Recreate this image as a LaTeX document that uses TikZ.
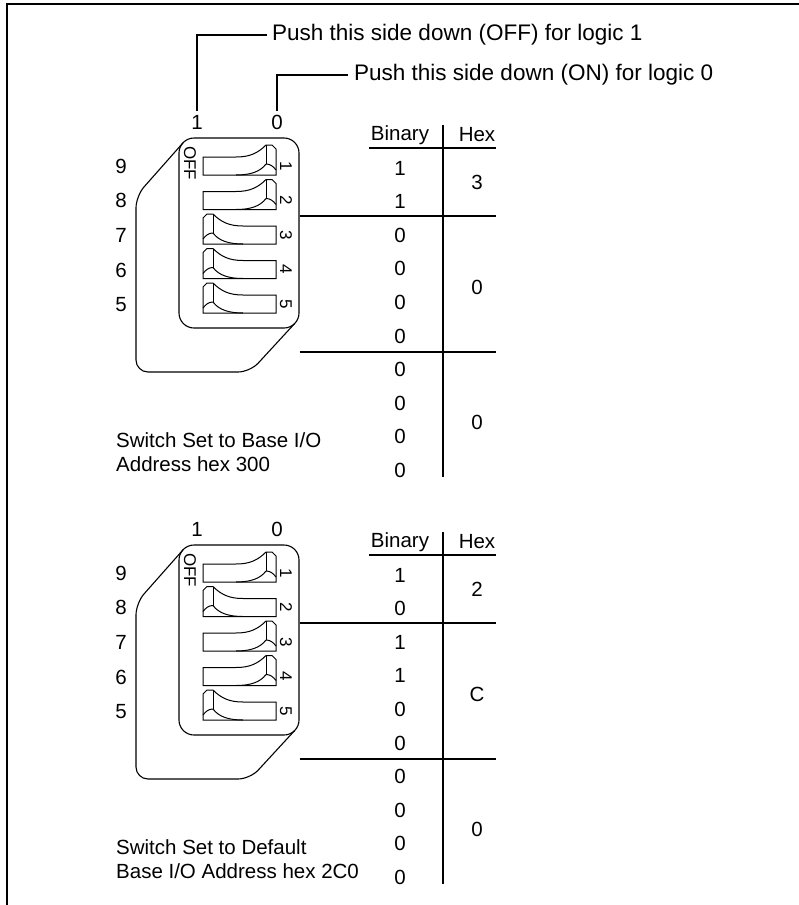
\documentclass[tikz,border=0pt]{standalone}
\usepackage{fontspec}
\setmainfont{Liberation Sans}
\tikzset{
  lbl/.style={font=\fontsize{20.5}{24}\selectfont, inner sep=0pt},
  biglbl/.style={font=\fontsize{22.5}{26}\selectfont, inner sep=0pt},
  pin/.style={font=\fontsize{17}{19}\selectfont, inner sep=0pt, rotate=-90},
  ln/.style={line width=1.1pt},
  body/.style={draw, ln, rounded corners=15pt, minimum width=120pt, minimum height=190pt, inner sep=0pt},
  swl/.pic={
    \draw[line width=1pt] (0,0) -- (0,-26) -- (4,-30) -- (10,-30) .. controls (18,-22) and (26,-18) .. (40,-18) -- (73,-18) -- (73,0) -- cycle;
    \draw[line width=1pt] (10,-30) -- (10,-11);
    \draw[line width=1pt] (0,-5) .. controls (3,-9) and (6,-11) .. (10,-11);
    \draw[line width=1pt] (10,-11) .. controls (16,-3) and (26,0) .. (40,0);
  }
}
% #1 prefix, #2 y offset, #3 switch orientation list, #4 bits, #5 #6 #7 hex, #8 caption
\newcommand\dipunit[8]{%
  \begin{scope}[shift={(0,#2)}]
    \node[lbl, inner sep=4pt] (#1one) at (197,122) {1};
    \node[lbl, inner sep=4pt] (#1zero) at (277,122) {0};
    \node[body] (#1body) at (239,233) {};
    \draw[ln, rounded corners=12pt] (183.4,142.4) -- (136,196) -- (136,372) -- (250,372) -- (294.6,323.6);
    \foreach \s [count=\i] in {#3} {
      \pic[xscale=\s] at ({239.5-36.5*\s},{175+34.5*(\i-1)}) {swl};
    }
    \foreach \n [count=\i] in {9,8,7,6,5} {
      \node[lbl] (#1r\n) at (121,{166+34.7*(\i-1)}) {\n};
    }
    \foreach \i in {1,...,5} {
      \node[pin] (#1p\i) at (286,{166+34.5*(\i-1)}) {\i};
    }
    \node[pin] (#1off) at (190,163) {OFF};
    % table
    \node[lbl] (#1bin) at (400,135) {Binary};
    \node[lbl] (#1hex) at (477,135) {Hex};
    \draw[ln] (369,148) -- (496,148);
    \draw[ln] (443,125) -- (443,477);
    \draw[ln] (#1body.east |- 0,216) -- (496,216);
    \draw[ln] (#1body.east |- 0,352) -- (496,352);
    \foreach \b [count=\i] in {#4} {
      \node[lbl] (#1b\i) at (400,{168+33.6*(\i-1)}) {\b};
    }
    \node[lbl] (#1h1) at (477,182) {#5};
    \node[lbl] (#1h2) at (477,287) {#6};
    \node[lbl] (#1h3) at (477,422) {#7};
    \node[lbl, anchor=west, align=left] (#1cap) at (116,452) {#8};
  \end{scope}
}
\begin{document}
\begin{tikzpicture}[x=1pt,y=-1pt]
  \useasboundingbox (0,0) rectangle (798,905);
  \draw[line width=2.5pt] (7,910) -- (7,4) -- (805,4);
  \dipunit{A}{0}{-1,-1,1,1,1}{1,1,0,0,0,0,0,0,0,0}{3}{0}{0}{Switch Set to Base I/O\\Address hex 300}
  \dipunit{B}{407}{-1,1,-1,-1,1}{1,0,1,1,0,0,0,0,0,0}{2}{C}{0}{Switch Set to Default\\Base I/O Address hex 2C0}
  \node[biglbl, anchor=west, inner xsep=5pt] (push1) at (267,35) {Push this side down (OFF) for logic 1};
  \node[biglbl, anchor=west, inner xsep=6pt] (push0) at (348,75) {Push this side down (ON) for logic 0};
  \draw[ln] (Aone.north) |- (push1.west);
  \draw[ln] (Azero.north) |- (push0.west);
\end{tikzpicture}
\end{document}
